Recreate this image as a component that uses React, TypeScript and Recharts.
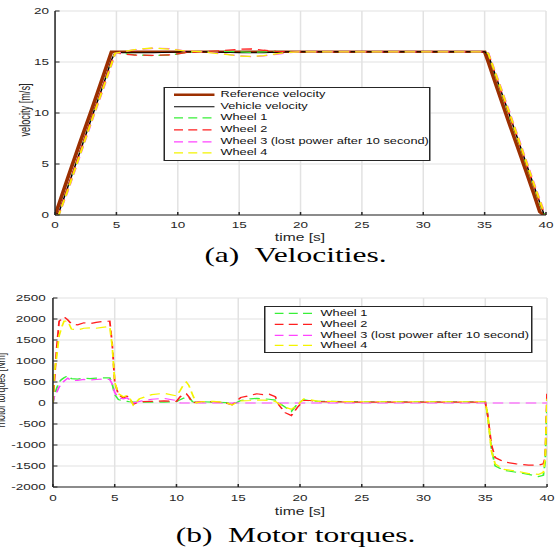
import { CartesianGrid, Label, Legend, Line, LineChart, XAxis, YAxis } from "recharts";

// the source figure is stretched sideways, so draw narrow and widen with scaleX
const SX = 1.5;
const W = 372;

const velTime = [0, 0.3, 1, 2, 3, 4, 4.6, 4.9, 5.5, 6.5, 8, 9.5, 10.5, 12, 13.5, 15, 16, 17, 18, 19, 20, 25, 30, 35, 35.3, 36, 37, 38, 39, 39.5, 39.8, 40];
const refVel = [0, 1.0, 3.5, 7.0, 10.4, 13.9, 16, 16, 16, 16, 16, 16, 16, 16, 16, 16, 16, 16, 16, 16, 16, 16, 16, 16, 15.0, 12.5, 9.0, 5.6, 2.1, 0.3, 0, 0];
const vehVel = [0, 0.2, 2.6, 6.1, 9.6, 13.0, 15.2, 15.95, 15.9, 15.9, 15.9, 15.95, 16, 16, 15.95, 15.9, 15.9, 15.9, 15.95, 16, 16, 16, 16, 16, 15.7, 13.3, 9.9, 6.4, 2.9, 1.2, 0.2, 0];
const w1Vel = [0, 0, 2.4, 5.9, 9.4, 12.8, 14.9, 15.9, 15.85, 15.7, 15.62, 15.7, 15.9, 16.0, 16.05, 16.0, 15.95, 16.0, 16.05, 16.0, 16, 16, 16, 16, 15.8, 13.2, 9.8, 6.3, 2.8, 1.1, 0.2, 0];
const w2Vel = [0, 0.1, 2.5, 6.0, 9.5, 12.9, 15.0, 15.9, 15.8, 15.68, 15.65, 15.7, 15.9, 16.0, 16.1, 16.25, 16.28, 16.15, 16.05, 16.0, 16, 16, 16, 16, 15.8, 13.3, 9.9, 6.4, 2.9, 1.2, 0.3, 0];
const w3Vel = [0, 0, 2.2, 5.7, 9.2, 12.6, 14.7, 15.8, 16.0, 16.2, 16.35, 16.3, 16.1, 16.0, 15.85, 15.6, 15.52, 15.6, 15.75, 15.9, 16, 16, 16, 16, 15.9, 13.6, 10.2, 6.7, 3.2, 1.5, 0.5, 0.2];
const w4Vel = [0, 0, 2.3, 5.8, 9.3, 12.7, 14.8, 15.85, 16.0, 16.22, 16.38, 16.25, 16.1, 16.0, 15.8, 15.58, 15.55, 15.62, 15.8, 15.95, 16, 16, 16, 16, 15.85, 13.5, 10.1, 6.6, 3.1, 1.4, 0.4, 0.3];

const torqueTime = [0, 0.1, 0.3, 0.5, 0.7, 0.9, 1.2, 1.5, 2, 2.5, 3, 3.5, 4, 4.6, 4.8, 5.0, 5.3, 5.7, 6.0, 6.2, 6.5, 7, 8, 9, 10, 10.3, 10.6, 10.8, 11, 11.3, 11.6, 12, 13, 14, 14.5, 14.8, 15.2, 16, 16.5, 17, 17.5, 18, 18.3, 18.8, 19.3, 19.8, 20.3, 20.8, 21.5, 25, 30, 35, 35.2, 35.5, 35.8, 36.5, 37.5, 38.5, 39.3, 39.7, 39.85, 40];
const w1Torque = [0, 150, 350, 500, 560, 600, 650, 580, 570, 590, 580, 590, 600, 600, 450, 200, 80, 50, 40, 30, 20, 20, 20, 20, 30, 80, 120, 150, 140, 30, 20, 30, 20, 10, -20, 0, 60, 100, 110, 100, 90, 70, 0, -100, -200, -20, 80, 50, 40, 30, 30, 30, -300, -1100, -1500, -1600, -1650, -1700, -1750, -1720, -1400, 0];
const w2Torque = [0, 450, 1300, 1950, 2000, 2050, 1980, 1880, 1860, 1910, 1890, 1920, 1940, 1950, 1400, 500, 200, 120, 160, 120, -30, 30, 40, 50, 40, 150, 200, 220, 150, 0, 20, 30, 30, 0, -40, 30, 130, 180, 220, 200, 210, 150, -50, -230, -300, -100, 60, 60, 30, 20, 20, 20, -300, -1000, -1300, -1400, -1450, -1480, -1480, -1450, -1300, 250];
const w3Torque = [0, 150, 250, 380, 450, 520, 590, 530, 540, 560, 550, 560, 570, 560, 450, 250, 120, 100, 120, 80, 0, 40, 90, 110, 60, 0, 0, 0, 0, 0, 0, 0, 0, 0, 0, 0, 0, 0, 0, 0, 0, 0, 0, 0, 0, 0, 0, 0, 0, 0, 0, 0, 0, 0, 0, 0, 0, 0, 0, 0, 0, 0];
const w4Torque = [0, 700, 1100, 1600, 1800, 1950, 1950, 1760, 1740, 1780, 1790, 1780, 1800, 1820, 1350, 500, 220, 150, 180, 130, -50, 100, 200, 230, 170, 300, 450, 500, 420, 200, 0, 30, 40, 10, -50, 0, 50, 60, 70, 70, 60, 40, -20, -100, -150, -50, 100, 80, 40, 30, 30, 30, -300, -1150, -1450, -1580, -1620, -1680, -1700, -1650, -1300, 100];

const timeTicks = [0, 5, 10, 15, 20, 25, 30, 35, 40];
const velTicks = [0, 5, 10, 15, 20];
const torqueTicks = [-2000, -1500, -1000, -500, 0, 500, 1000, 1500, 2000, 2500];

const velNames = ["Reference velocity", "Vehicle velocity", "Wheel 1", "Wheel 2", "Wheel 3 (lost power after 10 second)", "Wheel 4"];
const torqueNames = ["Wheel 1", "Wheel 2", "Wheel 3 (lost power after 10 second)", "Wheel 4"];

const ink = "#262626";
const gridColor = "#e2e2e2";
const sans = "'Liberation Sans', Arial, sans-serif";
const serif = "'Liberation Serif', 'Times New Roman', serif";

const BROWN = "#9c2f00";
const GREEN = "#38f038";
const RED = "#ff1f1f";
const MAGENTA = "#ff44ff";
const YELLOW = "#f4f400";
const DASH = "7 4";

const velRows = velTime.map((t, i) => ({
  t,
  ref: refVel[i],
  veh: vehVel[i],
  w1: w1Vel[i],
  w2: w2Vel[i],
  w3: w3Vel[i],
  w4: w4Vel[i],
}));

const torqueRows = torqueTime.map((t, i) => ({
  t,
  w1: w1Torque[i],
  w2: w2Torque[i],
  w3: w3Torque[i],
  w4: w4Torque[i],
}));

type Item = { name: string; color: string; width: number; dash?: string };

function LegendBox({ items, rowH, lineX, lineW, textX }: { items: Item[]; rowH: number; lineX: number; lineW: number; textX: number }) {
  return (
    <div style={{ border: `1px solid ${ink}`, background: "#fff", padding: "1px 0", fontFamily: sans, fontSize: 8.5, color: "#111" }}>
      {items.map((it) => (
        <div key={it.name} style={{ position: "relative", height: rowH, whiteSpace: "nowrap" }}>
          <svg width={lineW} height={rowH} style={{ position: "absolute", left: lineX, top: 0 }}>
            <line x1={0} x2={lineW} y1={rowH / 2} y2={rowH / 2} stroke={it.color} strokeWidth={it.width} strokeDasharray={it.dash} />
          </svg>
          <span style={{ position: "absolute", left: textX, top: 0, lineHeight: `${rowH}px` }}>{it.name}</span>
        </div>
      ))}
    </div>
  );
}

const tickStyle = { fill: ink, fontSize: 9, fontFamily: sans };

export default function App() {
  const velItems: Item[] = [
    { name: velNames[0], color: BROWN, width: 2.5 },
    { name: velNames[1], color: "#000", width: 1 },
    { name: velNames[2], color: GREEN, width: 1.3, dash: "6 3.5" },
    { name: velNames[3], color: RED, width: 1.3, dash: "6 3.5" },
    { name: velNames[4], color: MAGENTA, width: 1.3, dash: "6 3.5" },
    { name: velNames[5], color: YELLOW, width: 1.3, dash: "6 3.5" },
  ];
  const torqueItems: Item[] = [
    { name: torqueNames[0], color: GREEN, width: 1.2, dash: "6 3.5" },
    { name: torqueNames[1], color: RED, width: 1.2, dash: "6 3.5" },
    { name: torqueNames[2], color: MAGENTA, width: 1.2, dash: "6 3.5" },
    { name: torqueNames[3], color: YELLOW, width: 1.2, dash: "6 3.5" },
  ];

  return (
    <div style={{ position: "absolute", left: 0, top: 0, width: 558, height: 548, background: "#fff", overflow: "hidden" }}>
      <div style={{ position: "absolute", left: 0, top: 0, width: W, height: 548, transform: `scaleX(${SX})`, transformOrigin: "0 0" }}>
        <div style={{ position: "absolute", left: 0, top: 0 }}>
          <LineChart width={W} height={280} data={velRows} margin={{ top: 11, right: 8, bottom: 48, left: 0 }}>
            <CartesianGrid stroke={gridColor} />
            <XAxis dataKey="t" type="number" domain={[0, 40]} ticks={timeTicks} interval={0} height={17} tickSize={-3} tickMargin={9.8} stroke={ink} tick={tickStyle} allowDataOverflow>
              <Label
                content={() => (
                  <text x={200} y={241.5} textAnchor="middle" fontSize={10.4} fontFamily={sans} fill={ink}>
                    time [s]
                  </text>
                )}
              />
            </XAxis>
            <XAxis xAxisId="top" orientation="top" dataKey="t" type="number" domain={[0, 40]} ticks={timeTicks} interval={0} height={0} tickSize={-3} tick={false} stroke={ink} allowDataOverflow />
            <YAxis type="number" domain={[0, 20]} ticks={velTicks} interval={0} width={36.7} tickSize={-3} tickMargin={7} stroke={ink} tick={tickStyle} allowDataOverflow>
              <Label
                content={() => (
                  <text x={16.7} y={110} transform="rotate(-90 16.7 110)" textAnchor="middle" dominantBaseline="central" fontSize={9.2} fontFamily={sans} fill={ink}>
                    velocity [m/s]
                  </text>
                )}
              />
            </YAxis>
            <YAxis yAxisId="right" orientation="right" type="number" domain={[0, 20]} ticks={velTicks} interval={0} width={0} tickSize={-3} tick={false} stroke={ink} allowDataOverflow />
            <Line dataKey="ref" stroke={BROWN} strokeWidth={2.5} dot={false} activeDot={false} isAnimationActive={false} />
            <Line dataKey="veh" stroke="#000" strokeWidth={1} dot={false} activeDot={false} isAnimationActive={false} />
            <Line dataKey="w1" stroke={GREEN} strokeWidth={1.3} strokeDasharray={DASH} dot={false} activeDot={false} isAnimationActive={false} />
            <Line dataKey="w2" stroke={RED} strokeWidth={1.3} strokeDasharray={DASH} dot={false} activeDot={false} isAnimationActive={false} />
            <Line dataKey="w3" stroke={MAGENTA} strokeWidth={1.3} strokeDasharray={DASH} dot={false} activeDot={false} isAnimationActive={false} />
            <Line dataKey="w4" stroke={YELLOW} strokeWidth={1.3} strokeDasharray={DASH} dot={false} activeDot={false} isAnimationActive={false} />
            <Legend
              layout="horizontal"
              verticalAlign="middle"
              align="center"
              wrapperStyle={{ left: 108.7, top: 87, width: 178.7 }}
              content={() => <LegendBox items={velItems} rowH={11.7} lineX={6} lineW={27.3} textX={37.3} />}
            />
          </LineChart>
        </div>

        <div style={{ position: "absolute", left: 0, top: 280 }}>
          <LineChart width={W} height={268} data={torqueRows} margin={{ top: 18, right: 7.3, bottom: 43, left: 0 }}>
            <CartesianGrid stroke={gridColor} />
            <XAxis dataKey="t" type="number" domain={[0, 40]} ticks={timeTicks} interval={0} height={18} tickSize={-3} tickMargin={10.8} stroke={ink} tick={tickStyle} allowDataOverflow>
              <Label
                content={() => (
                  <text x={200} y={235} textAnchor="middle" fontSize={10.4} fontFamily={sans} fill={ink}>
                    time [s]
                  </text>
                )}
              />
            </XAxis>
            <XAxis xAxisId="top" orientation="top" dataKey="t" type="number" domain={[0, 40]} ticks={timeTicks} interval={0} height={0} tickSize={-3} tick={false} stroke={ink} allowDataOverflow />
            <YAxis type="number" domain={[-2000, 2500]} ticks={torqueTicks} interval={0} width={35.3} tickSize={-3} tickMargin={7.8} stroke={ink} tick={tickStyle} allowDataOverflow>
              <Label
                content={() => (
                  <text x={0.2} y={110} transform="rotate(-90 0.2 110)" textAnchor="middle" dominantBaseline="central" fontSize={8.7} fontFamily={sans} fill={ink}>
                    motor torques [Nm]
                  </text>
                )}
              />
            </YAxis>
            <YAxis yAxisId="right" orientation="right" type="number" domain={[-2000, 2500]} ticks={torqueTicks} interval={0} width={0} tickSize={-3} tick={false} stroke={ink} allowDataOverflow />
            <Line dataKey="w1" stroke={GREEN} strokeWidth={1.2} strokeDasharray={DASH} dot={false} activeDot={false} isAnimationActive={false} />
            <Line dataKey="w2" stroke={RED} strokeWidth={1.2} strokeDasharray={DASH} dot={false} activeDot={false} isAnimationActive={false} />
            <Line dataKey="w3" stroke={MAGENTA} strokeWidth={1.2} strokeDasharray={DASH} dot={false} activeDot={false} isAnimationActive={false} />
            <Line dataKey="w4" stroke={YELLOW} strokeWidth={1.2} strokeDasharray={DASH} dot={false} activeDot={false} isAnimationActive={false} />
            <Legend
              layout="horizontal"
              verticalAlign="middle"
              align="center"
              wrapperStyle={{ left: 176, top: 26, width: 179.3 }}
              content={() => <LegendBox items={torqueItems} rowH={10.8} lineX={6} lineW={28} textX={36.7} />}
            />
          </LineChart>
        </div>

        <div style={{ position: "absolute", left: 97, top: 245, width: 200, textAlign: "center", fontFamily: serif, fontSize: 21, lineHeight: "21px", whiteSpace: "pre", color: "#000" }}>
          {"(a)  Velocities."}
        </div>
        <div style={{ position: "absolute", left: 97, top: 525, width: 200, textAlign: "center", fontFamily: serif, fontSize: 21, lineHeight: "21px", whiteSpace: "pre", color: "#000" }}>
          {"(b)  Motor torques."}
        </div>
      </div>
    </div>
  );
}
